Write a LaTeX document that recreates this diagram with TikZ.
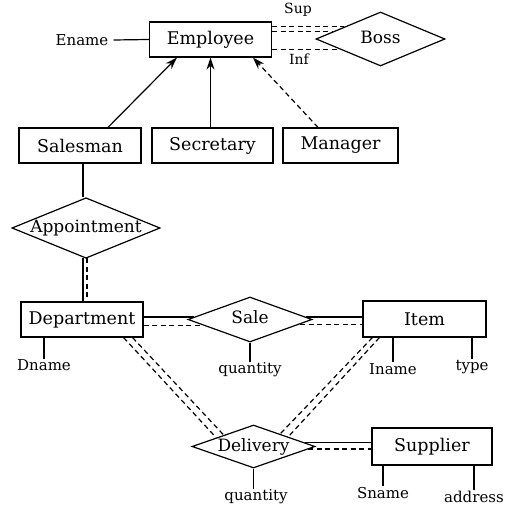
\documentclass[tikz,border=0pt]{standalone}
\usepackage{fontspec}
\setmainfont{DejaVu Serif}
\usetikzlibrary{shapes.geometric,calc,arrows.meta}
\begin{document}
\begin{tikzpicture}[x=1pt,y=-1pt,
  ent/.style={draw, line width=1.2pt, minimum width=#1, minimum height=35pt, inner sep=0pt, font=\fontsize{17.5}{19}\selectfont},
  ent/.default=120pt,
  rel/.style={draw, diamond, line width=1.2pt, inner sep=0pt, text height=12pt, text depth=3pt, font=\fontsize{17}{19}\selectfont},
  attr/.style={font=\fontsize{15}{17}\selectfont, inner sep=1pt},
  role/.style={font=\fontsize{14}{16}\selectfont, inner sep=1pt},
  lnk/.style={line width=1.2pt},
  dsh/.style={line width=1.2pt, dash pattern=on 5pt off 3.5pt},
  arr/.style={-{Stealth[length=12pt,width=8pt]}}
]
\useasboundingbox (0,0) rectangle (520,505);

% entities
\node[ent=122pt] (emp) at (210.5,39.5) {Employee};
\node[ent=122pt] (sales) at (80,145.5) {Salesman};
\node[ent=121pt] (sec) at (212.5,145.5) {Secretary};
\node[ent=115pt] (mgr) at (340.5,145.5) {Manager};
\node[ent=122pt] (dept) at (82,319.5) {Department};
\node[ent=123pt, minimum height=36pt] (item) at (424.5,319) {Item};
\node[ent=120pt, minimum height=37pt] (supp) at (432,446.5) {Supplier};

% relationships
\node[rel, aspect=2.39, minimum width=129pt, minimum height=54pt] (boss) at (380.5,39) {Boss};
\node[rel, aspect=2.45, minimum width=148pt, minimum height=60pt] (appt) at (86,228) {Appointment};
\node[rel, aspect=2.75, minimum width=124pt, minimum height=45pt] (sale) at (250,319.5) {Sale};
\node[rel, aspect=2.86, minimum width=123pt, minimum height=43pt] (deliv) at (253.5,446.5) {Delivery};

% attributes and roles
\node[attr] (ename) at (82,40) {Ename};
\node[role] (sup) at (298,10) {Sup};
\node[role] (inf) at (299,59) {Inf};
\node[attr] (dname) at (44,365) {Dname};
\node[attr] (q1) at (250,370) {quantity};
\node[attr] (iname) at (393,369) {Iname};
\node[attr] (type) at (472,367) {type};
\node[attr] (q2) at (256,497) {quantity};
\node[attr] (sname) at (383,493) {Sname};
\node[attr] (addr) at (474,497) {address};

% Employee attribute
\draw[lnk] ([xshift=4pt]ename.east) -- (emp.west);

% Boss recursive relationship
\coordinate (b1) at ($(boss.west)!0.44!(boss.north)$);
\coordinate (b2) at ($(boss.west)!0.26!(boss.north)$);
\coordinate (b3) at ($(boss.west)!0.37!(boss.south)$);
\draw[dsh] (b1 -| emp.east) -- (b1);
\draw[dsh] (b2 -| emp.east) -- (b2);
\draw[dsh] (b3 -| emp.east) -- (b3);

% ISA arrows
\draw[lnk,arr] ([xshift=28pt]sales.north) -- ([xshift=-33.5pt]emp.south);
\draw[lnk,arr] (emp.south |- sec.north) -- (emp.south);
\draw[dsh,arr] ([xshift=-22.5pt]mgr.north) -- ([xshift=42.5pt]emp.south);

% Salesman - Appointment - Department
\draw[lnk] ([xshift=3pt]sales.south) -- ([xshift=3pt]sales.south |- appt.north);
\coordinate (a1) at ($(appt.south)!0.04!(appt.west)$);
\coordinate (a2) at ($(appt.south)!0.014!(appt.east)$);
\draw[lnk] (a1) -- (a1 |- dept.north);
\draw[dsh] (a2) -- (a2 |- dept.north);

% Department - Sale - Item
\coordinate (s1) at ($(sale.west)!0.11!(sale.north)$);
\coordinate (s2) at ($(sale.west)!0.244!(sale.south)$);
\coordinate (s3) at ($(sale.east)!0.11!(sale.north)$);
\coordinate (s4) at ($(sale.east)!0.2!(sale.south)$);
\draw[lnk] (s1 -| dept.east) -- (s1);
\draw[dsh] (s2 -| dept.east) -- (s2);
\draw[lnk] (s3) -- (s3 -| item.west);
\draw[dsh] (s4) -- (s4 -| item.west);

% Delivery connections
\coordinate (d1) at ($(deliv.west)!0.40!(deliv.north)$);
\coordinate (d2) at ($(deliv.west)!0.52!(deliv.north)$);
\coordinate (d3) at ($(deliv.north)!0.43!(deliv.east)$);
\coordinate (d4) at ($(deliv.north)!0.56!(deliv.east)$);
\draw[dsh] ([xshift=-20pt]dept.south east) -- (d1);
\draw[dsh] ([xshift=-11pt]dept.south east) -- (d2);
\draw[dsh] ([xshift=10pt]item.south west) -- (d3);
\draw[dsh] ([xshift=17pt]item.south west) -- (d4);
\coordinate (d5) at ($(deliv.east)!0.163!(deliv.north)$);
\coordinate (d6) at ($(deliv.east)!0.116!(deliv.south)$);
\draw[lnk] (d5) -- (d5 -| supp.west);
\draw[dsh] (d6) -- (d6 -| supp.west);

% attribute lines
\draw[lnk] (dname.north |- dept.south) -- ([yshift=-1pt]dname.north);
\draw[lnk] (sale.south) -- (q1.north);
\draw[lnk] (iname.north |- item.south) -- (iname.north);
\draw[lnk] (type.north |- item.south) -- (type.north);
\draw[lnk] (deliv.south) -- (deliv.south |- q2.north);
\draw[lnk] (sname.north |- supp.south) -- (sname.north);
\draw[lnk] (addr.north |- supp.south) -- (addr.north);
\end{tikzpicture}
\end{document}
